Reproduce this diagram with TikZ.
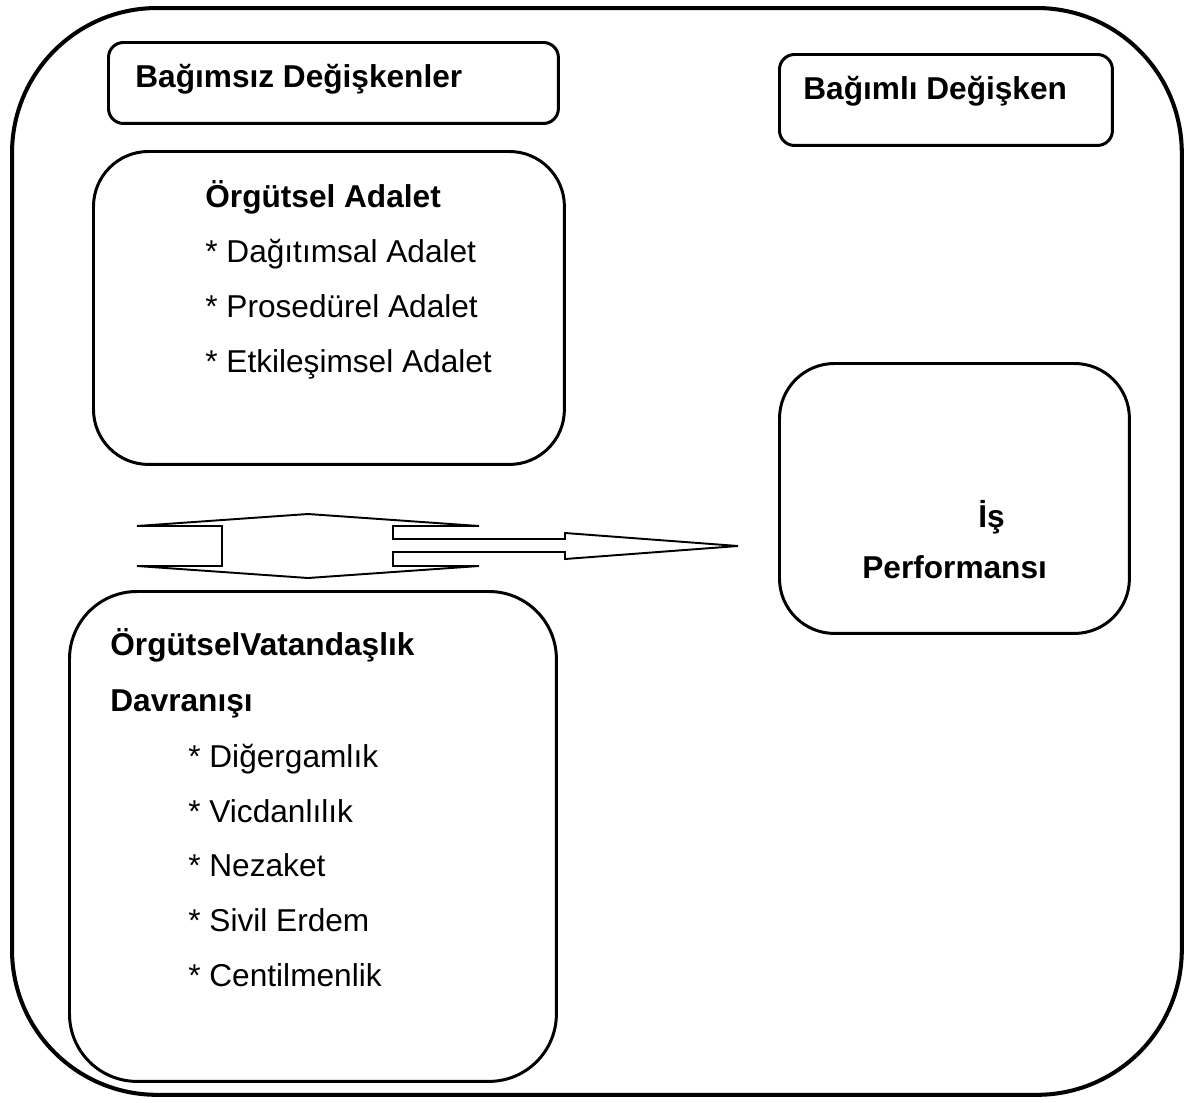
\documentclass[tikz,border=0pt]{standalone}
\usepackage{fontspec}
\setmainfont{Liberation Sans}
\usetikzlibrary{positioning}

\begin{document}
\begin{tikzpicture}[
		x=0.02cm, y=-0.02cm,
		font=\fontsize{18}{22}\selectfont,
		frame/.style={draw, line width=2.3pt, rounded corners=2.9cm, anchor=north west, inner sep=0},
		head/.style={draw, line width=1.7pt, rounded corners=0.3cm, anchor=north west, inner sep=0},
		block/.style={draw, line width=1.7pt, rounded corners=1.1cm, anchor=north west, inner sep=0},
		title/.style={anchor=base west, inner sep=0, font=\fontsize{18}{22}\selectfont\bfseries},
		item/.style={anchor=base west, inner sep=0}
	]
		\useasboundingbox (0,0) rectangle (1189,1102);

		\node[frame, minimum width=23.4cm, minimum height=21.74cm] (all) at (10,6) {};

		\node[head, minimum width=9cm, minimum height=1.62cm] (indep) at (107,41) {};
		\node[head, minimum width=6.66cm, minimum height=1.82cm] (dep) at (778,53) {};
		\node[block, minimum width=9.42cm, minimum height=6.26cm] (adalet) at (92,150) {};
		\node[block, minimum width=7cm, minimum height=5.4cm] (perf) at (778,362) {};
		\node[block, rounded corners=1.35cm, minimum width=9.74cm, minimum height=9.8cm] (ovd) at (68,590) {};

		\node[title] (indep-t) at (135,87) {Bağımsız Değişkenler};
		\node[title] (dep-t) at (803,99) {Bağımlı Değişken};

		\node[title] (adalet-t) at (205,207) {Örgütsel Adalet};
		\node[item] (dag) at (205,262) {* Dağıtımsal Adalet};
		\node[item] (pro) at (205,317) {* Prosedürel Adalet};
		\node[item] (etk) at (205,372) {* Etkileşimsel Adalet};

		\node[title] (is-t) at (978,527) {İş};
		\node[title] (perf-t) at (862,578) {Performansı};

		\node[title] (ovd-t) at (110,655) {ÖrgütselVatandaşlık};
		\node[title] (ovd-t2) at (110,711) {Davranışı};
		\node[item] (dig) at (188,767) {* Diğergamlık};
		\node[item] (vic) at (188,822) {* Vicdanlılık};
		\node[item] (nez) at (188,876) {* Nezaket};
		\node[item] (siv) at (188,931) {* Sivil Erdem};
		\node[item] (cen) at (188,986) {* Centilmenlik};

		% double block arrow between the two boxes, opening into the arrow to the right
		\coordinate (tip) at (738,546);
		\draw[line width=1.1pt, line join=miter] (393,539) -- (393,526) -- (479,526) -- (308,514)
			-- (137,526) -- (222,526) -- (222,566) -- (137,566) -- (308,578) -- (479,566)
			-- (393,566) -- (393,552) -- (565,552) -- (565,559) -- (tip) -- (565,533)
			-- (565,539) -- cycle;
	\end{tikzpicture}
\end{document}
